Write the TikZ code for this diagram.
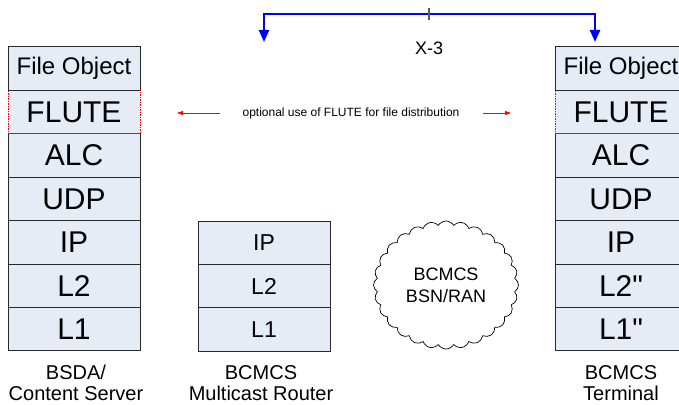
\documentclass[tikz,border=0pt]{standalone}
\usepackage{fontspec}
\setmainfont{Liberation Sans}
\newfontfamily\plainq{Liberation Sans}[Ligatures=TeXOff]
\usetikzlibrary{shapes.symbols,arrows.meta}
\definecolor{cellfill}{RGB}{230,236,246}
\definecolor{cellline}{RGB}{40,40,40}
\definecolor{xblue}{RGB}{0,0,255}
\tikzset{
  cell/.style={draw=cellline, fill=cellfill, line width=1pt, minimum width=132pt, minimum height=43.4pt, inner sep=0pt, outer sep=0pt, font=\fontsize{30}{34}\selectfont},
  smallcell/.style={cell, font=\fontsize{23}{27}\selectfont},
  topcell/.style={cell, font=\fontsize{24}{28}\selectfont},
  primecell/.style={cell, font=\plainq\fontsize{30}{34}\selectfont},
  flutebox/.style={cell, draw=red, dash pattern=on 1.5pt off 1pt, line width=0.8pt},
  caption/.style={align=center, font=\fontsize{20}{21}\selectfont, inner sep=0pt},
  blueline/.style={draw=xblue, line width=2.2pt, {Triangle[length=12pt,width=10pt]}-{Triangle[length=12pt,width=10pt]}},
  redarrow/.style={draw=red, line width=0.8pt, -{Triangle[length=6pt,width=4pt]}},
}
\begin{document}
\begin{tikzpicture}[x=1pt,y=-1pt]
\useasboundingbox (0,0) rectangle (679,404);
\clip (0,0) rectangle (679,404);
% left stack
\node[topcell] (lfo) at (74,68.7) {File Object};
\node[flutebox] (lfl) at (74,112.1) {FLUTE};
\node[cell] (lalc) at (74,155.5) {ALC};
\node[cell] (ludp) at (74,198.9) {UDP};
\node[cell] (lip) at (74,242.3) {IP};
\node[cell] (ll2) at (74,285.7) {L2};
\node[cell] (ll1) at (74,329.1) {L1};
\draw[cellline, line width=1pt] (lfo.south west) -- (lfo.south east);
\draw[red, line width=0.8pt] (lfl.south west) -- (lfl.south east);
% router
\node[smallcell] (rip) at (264,243) {IP};
\node[smallcell] (rl2) at (264,286.1) {L2};
\node[smallcell] (rl1) at (264,329.3) {L1};
% right stack
\node[topcell] (tfo) at (621,68.7) {File Object};
\node[flutebox] (tfl) at (621,112.1) {FLUTE};
\node[cell] (talc) at (621,155.5) {ALC};
\node[cell] (tudp) at (621,198.9) {UDP};
\node[cell] (tip) at (621,242.3) {IP};
\node[primecell] (tl2) at (621,285.7) {L2"};
\node[primecell] (tl1) at (621,329.1) {L1"};
\draw[cellline, line width=1pt] (tfo.south west) -- (tfo.south east);
\draw[red, line width=0.8pt] (tfl.south west) -- (tfl.south east);
% captions
\node[caption] (capl) at (76,383.3) {BSDA/\\Content Server};
\node[caption] (capr) at (261,383.3) {BCMCS\\Multicast Router};
\node[caption] (capt) at (621,383.3) {BCMCS\\Terminal};
% cloud
\node[cloud, draw=black, line width=0.7pt, fill=white, cloud puffs=28, cloud puff arc=120, cloud ignores aspect, minimum width=145pt, minimum height=128pt, align=center, font=\fontsize{18}{22}\selectfont] (net) at (446,285) {BCMCS\\BSN/RAN};
% optional FLUTE
\node[font=\fontsize{12}{14}\selectfont, inner sep=0pt] (opt) at (351,113) {optional use of FLUTE for file distribution};
\coordinate (oa1) at (220,113);
\coordinate (oa2) at (177,113);
\coordinate (ob1) at (483,113);
\coordinate (ob2) at (511,113);
\draw[redarrow] (oa1) -- (oa2);
\draw[redarrow] (ob1) -- (ob2);
% X-3
\coordinate (xl) at (264,42);
\coordinate (xlt) at (264,14);
\coordinate (xrt) at (595,14);
\coordinate (xr) at (595,42);
\draw[blueline] (xl) -- (xlt) -- (xrt) -- (xr);
\coordinate (tk1) at (429,8);
\coordinate (tk2) at (429,20);
\draw[gray!70!black, line width=1.2pt] (tk1) -- (tk2);
\node[font=\fontsize{18}{22}\selectfont] (x3) at (429,48) {X-3};
\end{tikzpicture}
\end{document}
